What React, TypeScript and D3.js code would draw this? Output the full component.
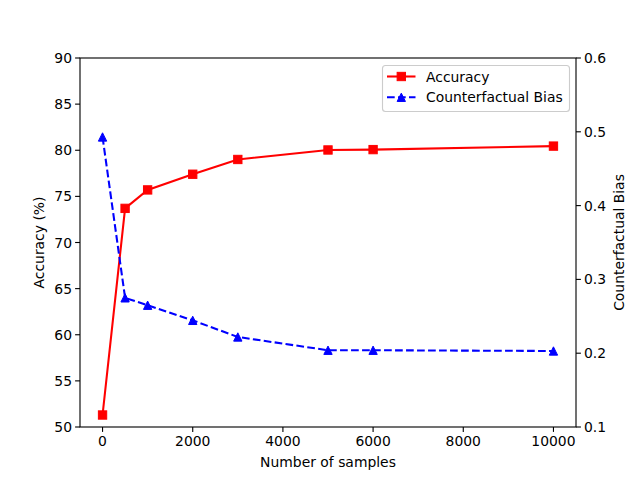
import * as d3 from "d3";

const samples = [0, 500, 1000, 2000, 3000, 5000, 6000, 10000];
const accuracy = [51.3, 73.7, 75.7, 77.4, 79.0, 80.03, 80.07, 80.45];
const bias = [0.493, 0.275, 0.265, 0.2445, 0.222, 0.204, 0.204, 0.203];

const xTicks = [0, 2000, 4000, 6000, 8000, 10000];
const accTicks = [50, 55, 60, 65, 70, 75, 80, 85, 90];
const biasTicks = [0.1, 0.2, 0.3, 0.4, 0.5, 0.6];

const W = 640;
const H = 480;
const margin = { top: 58, right: 64, bottom: 53, left: 80 };
const font = "DejaVu Sans, sans-serif";
const fs = 13.9;

export default function App() {
  const x = d3.scaleLinear().domain([-500, 10500]).range([margin.left, W - margin.right]);
  const yAcc = d3.scaleLinear().domain([50, 90]).range([H - margin.bottom, margin.top]);
  const yBias = d3.scaleLinear().domain([0.1, 0.6]).range([H - margin.bottom, margin.top]);

  const accLine = d3
    .line<number>()
    .x((_, i) => x(samples[i]))
    .y((d) => yAcc(d));
  const biasLine = d3
    .line<number>()
    .x((_, i) => x(samples[i]))
    .y((d) => yBias(d));

  const ms = 8.33;
  const tri = (cx: number, cy: number, s: number) =>
    `M${cx},${cy - s / 2}L${cx - s / 2},${cy + s / 2}L${cx + s / 2},${cy + s / 2}Z`;

  const left = margin.left;
  const right = W - margin.right;
  const top = margin.top;
  const bottom = H - margin.bottom;

  const lx = 382.5;
  const ly = 65.5;

  return (
    <svg
      width={W}
      height={H}
      style={{ position: "absolute", left: 0, top: 0, background: "#fff" }}
      fontFamily={font}
    >
      <rect width={W} height={H} fill="#fff" />
      {/* accuracy series */}
      <path d={accLine(accuracy) ?? ""} fill="none" stroke="red" strokeWidth={2.08} />
      {accuracy.map((d, i) => (
        <rect
          key={i}
          x={x(samples[i]) - ms / 2}
          y={yAcc(d) - ms / 2}
          width={ms}
          height={ms}
          fill="red"
          stroke="red"
          strokeWidth={1}
        />
      ))}
      {/* bias series */}
      <path
        d={biasLine(bias) ?? ""}
        fill="none"
        stroke="blue"
        strokeWidth={2.08}
        strokeDasharray="7.7,3.3"
      />
      {bias.map((d, i) => (
        <path key={i} d={tri(x(samples[i]), yBias(d), ms)} fill="blue" stroke="blue" strokeWidth={1} />
      ))}

      {/* frame */}
      <rect
        x={left}
        y={top}
        width={right - left}
        height={bottom - top}
        fill="none"
        stroke="#000"
        strokeWidth={1.11}
      />

      {/* x ticks */}
      {xTicks.map((t) => (
        <g key={t}>
          <line x1={x(t)} x2={x(t)} y1={bottom} y2={bottom + 4.9} stroke="#000" strokeWidth={1.11} />
          <text x={x(t)} y={bottom + 19} textAnchor="middle" fontSize={fs}>
            {t}
          </text>
        </g>
      ))}
      {/* left ticks */}
      {accTicks.map((t) => (
        <g key={t}>
          <line x1={left} x2={left - 4.9} y1={yAcc(t)} y2={yAcc(t)} stroke="#000" strokeWidth={1.11} />
          <text x={left - 8} y={yAcc(t)} dy="0.36em" textAnchor="end" fontSize={fs}>
            {t}
          </text>
        </g>
      ))}
      {/* right ticks */}
      {biasTicks.map((t) => (
        <g key={t}>
          <line x1={right} x2={right + 4.9} y1={yBias(t)} y2={yBias(t)} stroke="#000" strokeWidth={1.11} />
          <text x={right + 8} y={yBias(t)} dy="0.36em" textAnchor="start" fontSize={fs}>
            {t.toFixed(1)}
          </text>
        </g>
      ))}

      {/* axis labels */}
      <text x={(left + right) / 2} y={467} textAnchor="middle" fontSize={fs}>
        Number of samples
      </text>
      <text
        transform={`translate(44,${(top + bottom) / 2}) rotate(-90)`}
        textAnchor="middle"
        fontSize={fs}
      >
        Accuracy (%)
      </text>
      <text
        transform={`translate(624,${(top + bottom) / 2}) rotate(-90)`}
        textAnchor="middle"
        fontSize={fs}
      >
        Counterfactual Bias
      </text>

      {/* legend */}
      <rect
        x={lx}
        y={ly}
        width={187}
        height={46}
        rx={3}
        fill="#fff"
        fillOpacity={0.8}
        stroke="#ccc"
        strokeWidth={1.11}
      />
      <line x1={lx + 4.5} x2={lx + 33} y1={76.5} y2={76.5} stroke="red" strokeWidth={2.08} />
      <rect x={lx + 18.8 - ms / 2} y={76.5 - ms / 2} width={ms} height={ms} fill="red" stroke="red" strokeWidth={1} />
      <text x={lx + 43.5} y={76.5} dy="0.36em" fontSize={fs}>
        Accuracy
      </text>
      <line
        x1={lx + 4.5}
        x2={lx + 33}
        y1={97.3}
        y2={97.3}
        stroke="blue"
        strokeWidth={2.08}
        strokeDasharray="7.7,3.3"
      />
      <path d={tri(lx + 18.8, 97.3, ms)} fill="blue" stroke="blue" strokeWidth={1} />
      <text x={lx + 43.5} y={97.3} dy="0.36em" fontSize={fs}>
        Counterfactual Bias
      </text>
    </svg>
  );
}
